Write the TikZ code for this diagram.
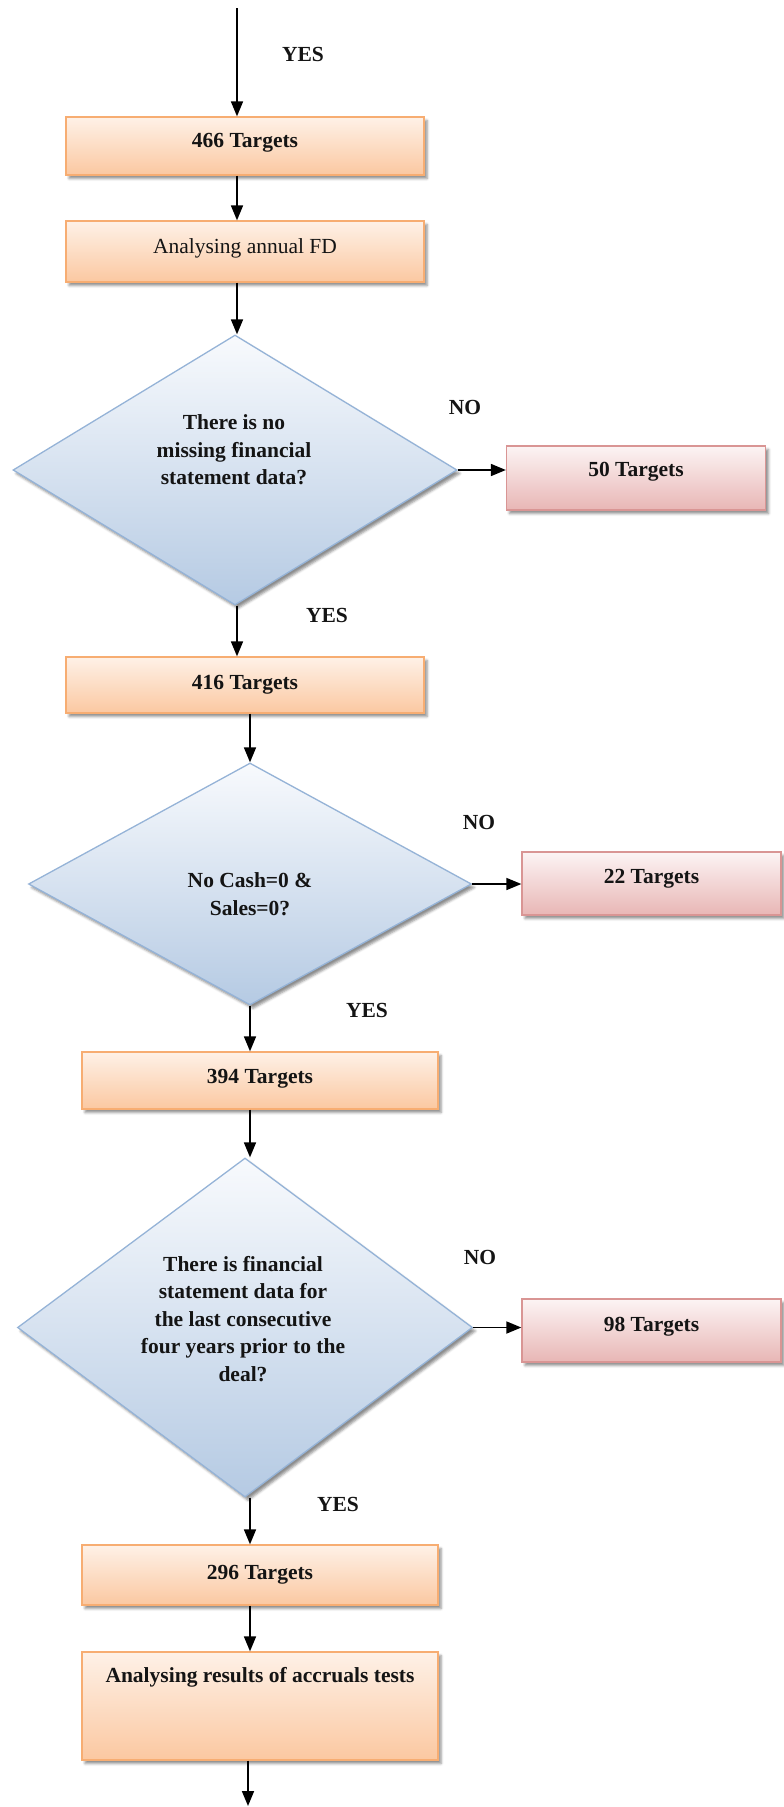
\documentclass[tikz,border=0pt]{standalone}
\usepackage{fontspec}
\setmainfont{Liberation Serif}
\usetikzlibrary{shapes.geometric,arrows.meta,shadows.blur}

\definecolor{orDraw}{HTML}{F7AD72}
\definecolor{orTop}{HTML}{FEF1E7}
\definecolor{orBot}{HTML}{FBC8A1}
\definecolor{rdDraw}{HTML}{D99594}
\definecolor{rdTop}{HTML}{FCF4F4}
\definecolor{rdBot}{HTML}{E8B6B5}
\definecolor{blDraw}{HTML}{95B3D7}
\definecolor{blTop}{HTML}{F8FAFD}
\definecolor{blBot}{HTML}{B5CAE3}

\tikzset{
  base/.style={font=\fontsize{21.5pt}{27.5pt}\selectfont\bfseries, text=black!92},
  soft/.style={blur shadow={shadow xshift=3pt, shadow yshift=-3.5pt,
      shadow blur radius=2.5pt, shadow opacity=45}},
  obox/.style={base, soft, rectangle, draw=orDraw, line width=1.3pt,
      top color=orTop, bottom color=orBot, text height=14pt},
  rbox/.style={base, soft, rectangle, draw=rdDraw, line width=1.3pt,
      top color=rdTop, bottom color=rdBot, text height=14pt,
      minimum width=259pt},
  dia/.style={soft, diamond, draw=blDraw, line width=1.3pt, inner sep=0pt,
      top color=blTop, bottom color=blBot},
  qtext/.style={base, align=center, inner sep=0pt},
  tag/.style={base, inner sep=0pt},
  arr/.style={line width=1.7pt, -{Triangle[length=15pt,width=12pt]}},
}

\begin{document}
\begin{tikzpicture}[x=1pt,y=-1pt]
\useasboundingbox (0,0) rectangle (784,1807);

% upper column of boxes
\node[obox, minimum width=358pt, minimum height=58pt, text depth=12pt]
  (b466) at (245,146) {466 Targets};
\node[obox, minimum width=358pt, minimum height=61pt, text depth=11pt,
  font=\fontsize{21.5pt}{27.5pt}\selectfont\mdseries]
  (bFD) at (245,251.5) {Analysing annual FD};

% first test
\node[dia, minimum width=444pt, minimum height=270pt] (d1) at (235,470) {};
\node[qtext] (t1) at (234,450) {There is no\\missing financial\\statement data?};
\node[rbox, minimum height=64pt, text depth=18pt] (b50) at (636,478) {50 Targets};
\node[tag] (n1) at (465,407) {NO};
\node[tag] (y1) at (327,615) {YES};

\node[obox, minimum width=358pt, minimum height=56pt, text depth=6pt]
  (b416) at (245,685) {416 Targets};

% second test
\node[dia, minimum width=443pt, minimum height=242pt] (d2) at (250,884) {};
\node[qtext] (t2) at (250,894) {No Cash=0 \&\\Sales=0?};
\node[rbox, minimum height=63pt, text depth=15pt] (b22) at (651.5,883.5) {22 Targets};
\node[tag] (n2) at (479,822) {NO};
\node[tag] (y2) at (367,1010) {YES};

\node[obox, minimum width=356pt, minimum height=57pt, text depth=9pt]
  (b394) at (260,1080.5) {394 Targets};

% third test
\node[dia, minimum width=455pt, minimum height=339pt] (d3) at (245,1327.5) {};
\node[qtext] (t3) at (243,1319) {There is financial\\statement data for\\the last consecutive\\four years prior to the\\deal?};
\node[rbox, minimum height=63pt, text depth=13pt] (b98) at (651.5,1330.5) {98 Targets};
\node[tag] (n3) at (480,1257) {NO};
\node[tag] (y3) at (338,1504) {YES};

% lower column of boxes
\node[obox, minimum width=356pt, minimum height=60pt, text depth=6pt]
  (b296) at (260,1575) {296 Targets};
\node[obox, minimum width=356pt, minimum height=108pt, text depth=62pt]
  (bAR) at (260,1706) {Analysing results of accruals tests};

% connectors
\coordinate (s0) at (237,8);
\node[tag] (y0) at (303,54) {YES};
\coordinate (e0) at (248,1806);

\draw[arr] (s0) -- (s0 |- b466.north);
\draw[arr] (b466.south -| s0) -- (bFD.north -| s0);
\draw[arr] (bFD.south -| s0) -- (d1.north -| s0);
\draw[arr] (d1.south -| s0) -- (b416.north -| s0);
\draw[arr] (b416.south -| d2.north) -- (d2.north);
\draw[arr] (d2.south) -- (d2.south |- b394.north);
\draw[arr] (b394.south -| d2.south) -- (d3.north -| d2.south);
\draw[arr] (d3.south -| d2.south) -- (b296.north -| d2.south);
\draw[arr] (b296.south -| d2.south) -- (bAR.north -| d2.south);
\draw[arr] (bAR.south -| e0) -- (e0);

\draw[arr] (d1.east) -- (b50.west |- d1.east);
\draw[arr] (d2.east) -- (b22.west |- d2.east);
\draw[arr] (d3.east) -- (b98.west |- d3.east);
\end{tikzpicture}
\end{document}
